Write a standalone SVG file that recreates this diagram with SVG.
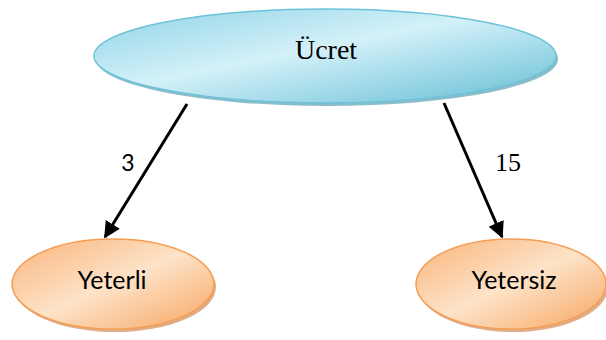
<svg xmlns="http://www.w3.org/2000/svg" width="606" height="340" viewBox="0 0 606 340">
<defs>
<linearGradient id="gb" x1="0" y1="0" x2="1" y2="1">
<stop offset="0" stop-color="#8fd3e6"/>
<stop offset="0.45" stop-color="#d3f1f9"/>
<stop offset="1" stop-color="#63bcd4"/>
</linearGradient>
<linearGradient id="go" x1="0" y1="0" x2="1" y2="1">
<stop offset="0" stop-color="#f8b47a"/>
<stop offset="0.5" stop-color="#fde3c8"/>
<stop offset="1" stop-color="#f7a560"/>
</linearGradient>
<marker id="ah" viewBox="0 0 10 10" refX="9" refY="5" markerWidth="5.5" markerHeight="5.5" orient="auto" markerUnits="strokeWidth">
<path d="M0,0 L10,5 L0,10 Z" fill="#000"/>
</marker>
<style>
.blue{fill:url(#gb);stroke:#6cc2d8;stroke-width:1.5}
.orange{fill:url(#go);stroke:#f59d52;stroke-width:1.5}
.sh1{fill:#3d8fa6;opacity:0.6}
.sh2{fill:#c9763a;opacity:0.6}
.serif{font-family:"Liberation Serif",serif;fill:#000}
.sans{font-family:Lato,"Liberation Sans",sans-serif;fill:#000}
.edge{stroke:#000;stroke-width:3;fill:none;marker-end:url(#ah)}
</style>
</defs>
<g id="connectors">
<line class="edge" x1="187" y1="104" x2="105" y2="237"/>
<line class="edge" x1="444" y1="103" x2="502" y2="237"/>
<text class="sans" x="128" y="171" font-size="23" text-anchor="middle">3</text>
<text class="serif" x="508" y="171" font-size="26" text-anchor="middle">15</text>
</g>
<g id="ucret">
<ellipse class="sh1" cx="327" cy="59" rx="231" ry="47"/>
<ellipse class="blue" cx="325" cy="56" rx="231" ry="47"/>
<text class="serif" x="326" y="59" font-size="28" text-anchor="middle">Ücret</text>
</g>
<g id="yeterli">
<ellipse class="sh2" cx="115" cy="287" rx="101" ry="45"/>
<ellipse class="orange" cx="113" cy="284" rx="101" ry="45"/>
<text class="sans" x="112" y="289" font-size="25" text-anchor="middle">Yeterli</text>
</g>
<g id="yetersiz">
<ellipse class="sh2" cx="513" cy="287" rx="95" ry="45"/>
<ellipse class="orange" cx="511" cy="284" rx="95" ry="45"/>
<text class="sans" x="514" y="289" font-size="25" text-anchor="middle">Yetersiz</text>
</g>
</svg>
